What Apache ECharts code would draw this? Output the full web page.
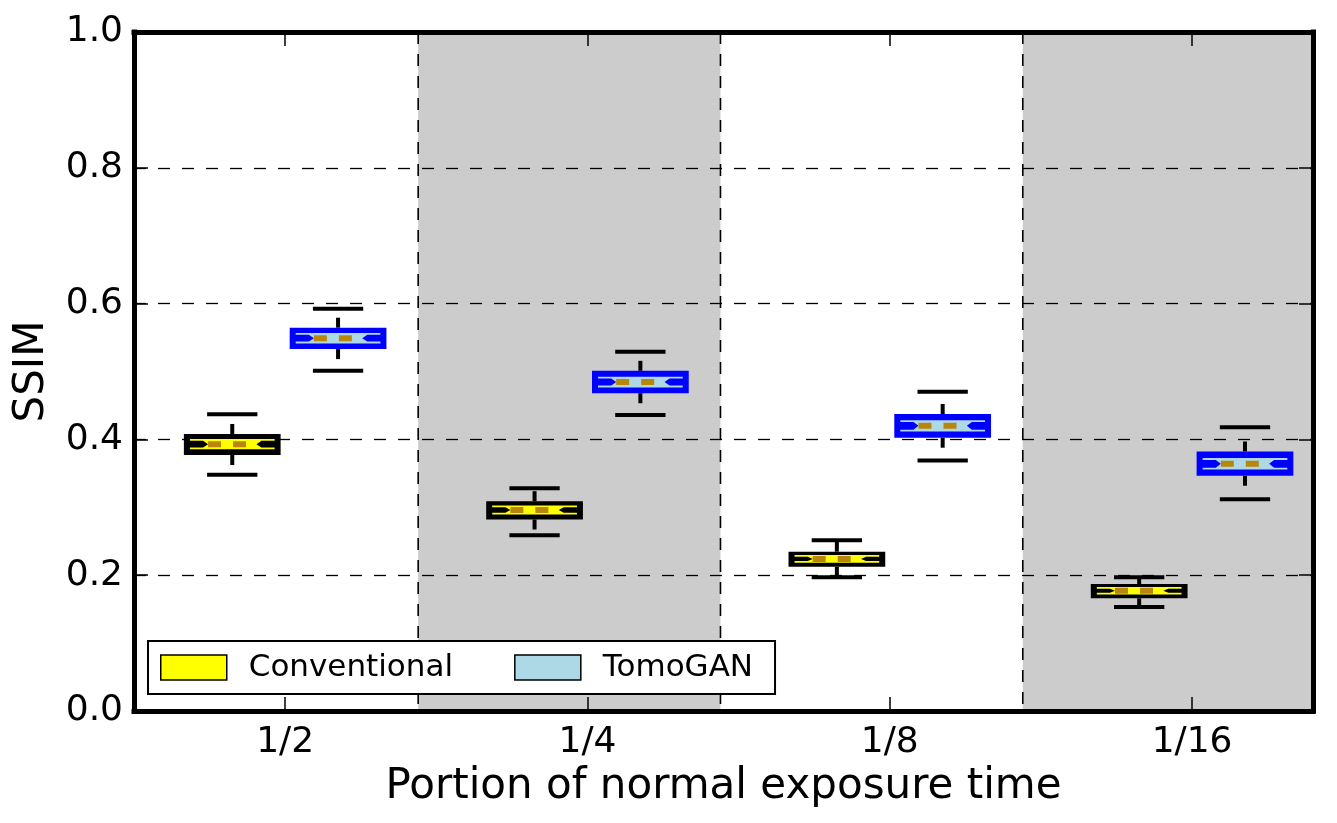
<!DOCTYPE html>
<html><head><meta charset="utf-8">
<script src="https://cdn.jsdelivr.net/npm/echarts@6/dist/echarts.min.js"></script>
<style>html,body{margin:0;padding:0;background:#fff}#chart{width:1337px;height:823px}</style>
</head><body><div id="chart"></div>
<script>
// ---- data ----
const categories = ['1/2', '1/4', '1/8', '1/16'];
// each row: [group index, lower whisker, q1, median, q3, upper whisker]
const conventional = [
  [0, 0.348, 0.377, 0.393, 0.408, 0.437],
  [1, 0.259, 0.282, 0.296, 0.309, 0.328],
  [2, 0.197, 0.2125, 0.224, 0.2346, 0.2513],
  [3, 0.153, 0.166, 0.177, 0.187, 0.197]
];
const tomogan = [
  [0, 0.501, 0.533, 0.549, 0.5645, 0.5925],
  [1, 0.436, 0.468, 0.4845, 0.501, 0.529],
  [2, 0.369, 0.4025, 0.420, 0.4374, 0.470],
  [3, 0.312, 0.3465, 0.364, 0.382, 0.418]
];
const shadedBands = [[0.44, 1.44], [2.44, 3.4]];
const bandEdges = [0.44, 1.44, 2.44];

// ---- layout constants ----
const BOX_W = 0.32;
const OFFSET = 0.175;
const FONT = 'DejaVu Sans';

function boxRenderer(offset, edgeColor, fillColor) {
  return function (params, api) {
    const x = api.value(0) + offset;
    const cx = api.coord([x, 0])[0];
    const yLow = api.coord([x, api.value(1)])[1];
    const yQ1 = api.coord([x, api.value(2)])[1];
    const yMed = api.coord([x, api.value(3)])[1];
    const yQ3 = api.coord([x, api.value(4)])[1];
    const yHigh = api.coord([x, api.value(5)])[1];
    const w = api.size([BOX_W, 0])[0];
    const capW = w * 0.52;
    const L = cx - w / 2, R = cx + w / 2;
    const cL = cx - w / 4, cR = cx + w / 4;
    const hh = (yQ1 - yQ3) / 2;
    const d = 0.4 * hh;
    const yT = yMed - d, yB = yMed + d;
    const ins = 6, a = 5, t = 0.9;
    const whisk = { stroke: '#000', lineWidth: 4, lineDash: [10, 14], fill: null };
    const cap = { stroke: '#000', lineWidth: 4, fill: null };
    return {
      type: 'group',
      children: [
        { type: 'line', shape: { x1: cx, y1: yQ3, x2: cx, y2: yHigh }, style: whisk },
        { type: 'line', shape: { x1: cx, y1: yQ1, x2: cx, y2: yLow }, style: whisk },
        { type: 'line', shape: { x1: cx - capW / 2, y1: yHigh, x2: cx + capW / 2, y2: yHigh }, style: cap },
        { type: 'line', shape: { x1: cx - capW / 2, y1: yLow, x2: cx + capW / 2, y2: yLow }, style: cap },
        { type: 'rect', shape: { x: L, y: yQ3, width: w, height: yQ1 - yQ3 }, style: { fill: edgeColor } },
        { type: 'polygon', shape: { points: [
          [L + ins, yT - t], [R - ins, yT - t], [R - ins, yT + t], [cR + a, yT + t], [cR, yMed],
          [cR + a, yB - t], [R - ins, yB - t], [R - ins, yB + t], [L + ins, yB + t], [L + ins, yB - t],
          [cL - a, yB - t], [cL, yMed], [cL - a, yT + t], [L + ins, yT + t]
        ] }, style: { fill: fillColor } },
        { type: 'line', shape: { x1: cL, y1: yMed, x2: cR, y2: yMed },
          style: { stroke: '#B8860B', lineWidth: 6, lineDash: [13, 12], fill: null } }
      ]
    };
  };
}

const chart = echarts.init(document.getElementById('chart'), null, { renderer: 'canvas' });
const frameLine = { color: '#000', width: 5, cap: 'square' };
const tickStyle = { color: '#000', width: 1.5 };
chart.setOption({
  animation: false,
  backgroundColor: '#fff',
  textStyle: { fontFamily: FONT },
  grid: { left: 134, top: 32, width: 1179, height: 679, containLabel: false },
  legend: {
    left: 148, top: 641, orient: 'horizontal',
    data: ['Conventional', 'TomoGAN'],
    icon: 'rect', itemWidth: 66, itemHeight: 25, itemGap: 61,
    padding: [11, 22, 11, 12],
    backgroundColor: '#fff', borderColor: '#000', borderWidth: 2, borderRadius: 0,
    itemStyle: { borderColor: '#000', borderWidth: 1.5 },
    textStyle: { fontSize: 31, fontFamily: FONT, color: '#000', padding: [0, 0, 0, 17] },
    selectedMode: false
  },
  xAxis: [
    {
      type: 'value', min: -0.5, max: 3.4, position: 'bottom', z: 3,
      axisLine: { show: true, onZero: false, lineStyle: frameLine },
      axisTick: { show: true, inside: true, length: 14, customValues: [0, 1, 2, 3], lineStyle: tickStyle },
      axisLabel: { show: true, customValues: [0, 1, 2, 3], formatter: v => categories[Math.round(v)],
        fontSize: 36, fontFamily: FONT, color: '#000', margin: 14 },
      splitLine: { show: false },
      name: 'Portion of normal exposure time', nameLocation: 'middle', nameGap: 54,
      nameTextStyle: { fontSize: 42, fontFamily: FONT, color: '#000' }
    },
    {
      type: 'value', min: -0.5, max: 3.4, position: 'top', z: 3,
      axisLine: { show: true, onZero: false, lineStyle: frameLine },
      axisTick: { show: true, inside: true, length: 14, customValues: [0, 1, 2, 3], lineStyle: tickStyle },
      axisLabel: { show: false },
      splitLine: { show: false }
    }
  ],
  yAxis: [
    {
      type: 'value', min: 0, max: 1, interval: 0.2, position: 'left', z: 1,
      axisLine: { show: true, onZero: false, lineStyle: frameLine },
      axisTick: { show: true, inside: true, length: 14, lineStyle: tickStyle },
      axisLabel: { show: true, formatter: v => v.toFixed(1), fontSize: 36, fontFamily: FONT, color: '#000', margin: 11 },
      splitLine: { show: true, lineStyle: { color: '#000', width: 1.3, type: [12, 12] } },
      name: 'SSIM', nameLocation: 'middle', nameGap: 81,
      nameTextStyle: { fontSize: 42, fontFamily: FONT, color: '#000' }
    },
    {
      type: 'value', min: 0, max: 1, interval: 0.2, position: 'right', z: 3,
      axisLine: { show: true, onZero: false, lineStyle: frameLine },
      axisTick: { show: true, inside: true, length: 14, lineStyle: tickStyle },
      axisLabel: { show: false },
      splitLine: { show: false }
    }
  ],
  series: [
    {
      type: 'custom', name: 'bands', z: 0, silent: true, clip: true,
      xAxisIndex: 0, yAxisIndex: 0,
      data: shadedBands,
      encode: { x: [0, 1] },
      renderItem: function (params, api) {
        const p0 = api.coord([api.value(0), 1]);
        const p1 = api.coord([api.value(1), 0]);
        return { type: 'rect', shape: { x: p0[0], y: p0[1], width: p1[0] - p0[0], height: p1[1] - p0[1] },
          style: { fill: '#cccccc' } };
      }
    },
    {
      type: 'custom', name: 'edges', z: 0, silent: true, clip: true,
      xAxisIndex: 0, yAxisIndex: 0,
      data: bandEdges.map(v => [v]),
      encode: { x: 0 },
      renderItem: function (params, api) {
        const p0 = api.coord([api.value(0), 1]);
        const p1 = api.coord([api.value(0), 0]);
        return { type: 'line', shape: { x1: p0[0], y1: p0[1], x2: p1[0], y2: p1[1] },
          style: { stroke: '#000', lineWidth: 1.6, lineDash: [12, 10], fill: null } };
      }
    },
    {
      type: 'custom', name: 'Conventional', z: 2, clip: true,
      xAxisIndex: 0, yAxisIndex: 0,
      itemStyle: { color: '#ffff00', borderColor: '#000', borderWidth: 1.5 },
      data: conventional,
      encode: { x: 0, y: [1, 2, 3, 4, 5] },
      renderItem: boxRenderer(-OFFSET, '#000000', '#ffff00')
    },
    {
      type: 'custom', name: 'TomoGAN', z: 2, clip: true,
      xAxisIndex: 0, yAxisIndex: 0,
      itemStyle: { color: '#add8e6', borderColor: '#000', borderWidth: 1.5 },
      data: tomogan,
      encode: { x: 0, y: [1, 2, 3, 4, 5] },
      renderItem: boxRenderer(OFFSET, '#0000ff', '#add8e6')
    }
  ]
});
</script>
</body></html>
